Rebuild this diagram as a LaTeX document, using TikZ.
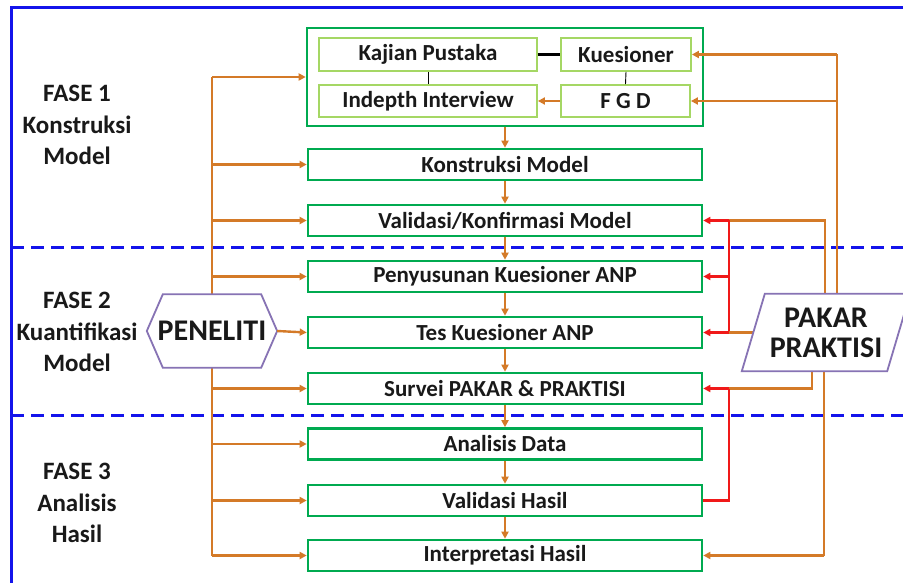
\documentclass[tikz,border=0pt]{standalone}
\usepackage{fontspec}
\setmainfont{Carlito}
\usetikzlibrary{arrows.meta}
\definecolor{frameblue}{RGB}{20,20,235}
\definecolor{boxgreen}{RGB}{0,170,80}
\definecolor{lightgreen}{RGB}{165,215,100}
\definecolor{orangeln}{RGB}{212,122,40}
\definecolor{redln}{RGB}{240,25,25}
\definecolor{purpleln}{RGB}{135,115,180}
\definecolor{txt}{RGB}{25,25,25}
\begin{document}
\begin{tikzpicture}[x=1pt,y=-1pt,
  mainbox/.style={draw=boxgreen,line width=2.6pt,minimum width=394pt,minimum height=31pt,inner sep=0pt,font=\fontsize{23}{26}\bfseries\selectfont,text=txt,fill=white},
  groupbox/.style={draw=boxgreen,line width=2.6pt,minimum width=396pt,minimum height=98pt,inner sep=0pt,fill=white},
  subbox/.style={draw=lightgreen,line width=1.8pt,inner sep=0pt,font=\fontsize{23}{26}\bfseries\selectfont,text=txt,fill=white},
  fase/.style={align=center,font=\fontsize{25}{31.5}\bfseries\selectfont,text=txt},
  bigtext/.style={align=center,font=\fontsize{30}{30}\bfseries\selectfont,text=txt},
  oline/.style={draw=orangeln,line width=2.4pt},
  oarrow/.style={oline,-{Triangle[length=7pt,width=7pt]}},
  rline/.style={draw=redln,line width=2.6pt},
  rarrow/.style={rline,-{Triangle[length=7pt,width=7pt]}},
  blueline/.style={draw=frameblue,line width=3pt},
  bluedash/.style={blueline,dash pattern=on 13pt off 7pt},
  shapeline/.style={draw=purpleln,line width=1.8pt,fill=white}
]
\useasboundingbox (0,0) rectangle (903,583);
\begin{scope}
\clip (0,0) rectangle (903,583);
\fill[white] (0,0) rectangle (903,583);
% frame and phase separators
\draw[blueline] (11,600) -- (11,8) -- (920,8);
\draw[bluedash] (11,247) -- (910,247);
\draw[bluedash] (11,415) -- (910,415);

% phase labels
\node[fase] (f1) at (77,125) {FASE 1\\Konstruksi\\Model};
\node[fase] (f2) at (77,332) {FASE 2\\Kuantifikasi\\Model};
\node[fase] (f3) at (77,503) {FASE 3\\Analisis\\Hasil};

% top group
\node[groupbox] (grp) at (505,77) {};
\node[subbox,minimum width=218pt,minimum height=33pt] (kp) at (428,54.5) {Kajian Pustaka};
\node[subbox,minimum width=130pt,minimum height=33pt] (kue) at (626,54.5) {Kuesioner};
\node[subbox,minimum width=218pt,minimum height=32pt] (ii) at (428,101) {Indepth Interview};
\node[subbox,minimum width=129pt,minimum height=32pt] (fgd) at (625.5,101) {F G D};

% main column
\node[mainbox] (km) at (505,164.5) {Konstruksi Model};
\node[mainbox] (vk) at (505,220.5) {Validasi/Konfirmasi Model};
\node[mainbox] (pk) at (505,276.5) {Penyusunan Kuesioner ANP};
\node[mainbox] (tk) at (505,332.5) {Tes Kuesioner ANP};
\node[mainbox] (sv) at (505,388.5) {Survei PAKAR \& PRAKTISI};
\node[mainbox] (ad) at (505,444) {Analisis Data};
\node[mainbox] (vh) at (505,500.5) {Validasi Hasil};
\node[mainbox] (ih) at (505,555.5) {Interpretasi Hasil};

% inner group links
\draw[black,line width=2.2pt] (kp.east) -- (kue.west);
\draw[black,line width=0.9pt] (kp.south) -- (ii.north);
\draw[black,line width=0.9pt] (kue.south) -- (fgd.north);
\draw[oarrow] (fgd.west) -- (ii.east);

% main flow
\draw[oarrow] (grp.south) -- (km.north);
\draw[oarrow] (km.south) -- (vk.north);
\draw[oarrow] (vk.south) -- (pk.north);
\draw[oarrow] (pk.south) -- (tk.north);
\draw[oarrow] (tk.south) -- (sv.north);
\draw[oarrow] (sv.south) -- (ad.north);
\draw[oarrow] (ad.south) -- (vh.north);
\draw[oarrow] (vh.south) -- (ih.north);

% PENELITI
\node[minimum width=130pt,minimum height=73pt,inner sep=0pt] (pen) at (212,331) {};
\draw[oline] (pen.center |- grp.west) -- (pen.center |- ih.west);
\draw[oarrow] (pen.center |- grp.west) -- (grp.west);
\draw[oarrow] (pen.center |- km.west) -- (km.west);
\draw[oarrow] (pen.center |- vk.west) -- (vk.west);
\draw[oarrow] (pen.center |- pk.west) -- (pk.west);
\draw[oarrow] (pen.center |- sv.west) -- (sv.west);
\draw[oarrow] (pen.center |- ad.west) -- (ad.west);
\draw[oarrow] (pen.center |- vh.west) -- (vh.west);
\draw[oarrow] (pen.center |- ih.west) -- (ih.west);
\draw[shapeline] (pen.west) -- ([xshift=16pt]pen.north west) -- ([xshift=-16pt]pen.north east)
  -- (pen.east) -- ([xshift=-16pt]pen.south east) -- ([xshift=16pt]pen.south west) -- cycle;
\node[bigtext] (pentext) at (pen.center) {PENELITI};
\draw[oarrow] (pen.east) -- (tk.west);

% PAKAR PRAKTISI
\node[minimum width=168pt,minimum height=77pt,inner sep=0pt] (pak) at (826,332.5) {};
\coordinate (r1) at ([xshift=11pt]pak.north);
\coordinate (r2) at ([xshift=-1pt]pak.north);
\coordinate (b1) at ([xshift=-14pt]pak.south);
\coordinate (b2) at ([xshift=-2pt]pak.south);
\coordinate (pakL) at ([xshift=11.5pt]pak.west);
\coordinate (jr) at (729,0);

\draw[oline] (r1) -- (r1 |- kue.east);
\draw[oarrow] (r1 |- kue.east) -- (kue.east);
\draw[oarrow] (r1 |- fgd.east) -- (fgd.east);
\draw[oline] (r2) -- (r2 |- vk.east) -- (jr |- vk.east);
\draw[rline] (jr |- vk.east) -- (jr |- tk.east);
\draw[rarrow] (jr |- vk.east) -- (vk.east);
\draw[rarrow] (jr |- pk.east) -- (pk.east);
\draw[oline] (pakL) -- (jr |- tk.east);
\draw[rarrow] (jr |- tk.east) -- (tk.east);
\draw[oline] (b1) -- (b1 |- sv.east) -- (jr |- sv.east);
\draw[rline] (vh.east) -- (jr |- vh.east) -- (jr |- sv.east);
\draw[rarrow] (jr |- sv.east) -- (sv.east);
\draw[oline] (b2) -- (b2 |- ih.east);
\draw[oarrow] (b2 |- ih.east) -- (ih.east);

\draw[shapeline] (pak.south west) -- ([xshift=23pt]pak.north west) -- (pak.north east)
  -- ([xshift=-23pt]pak.south east) -- cycle;
\node[bigtext] (paktext) at (pak.center) {PAKAR\\PRAKTISI};
\end{scope}
\end{tikzpicture}
\end{document}
